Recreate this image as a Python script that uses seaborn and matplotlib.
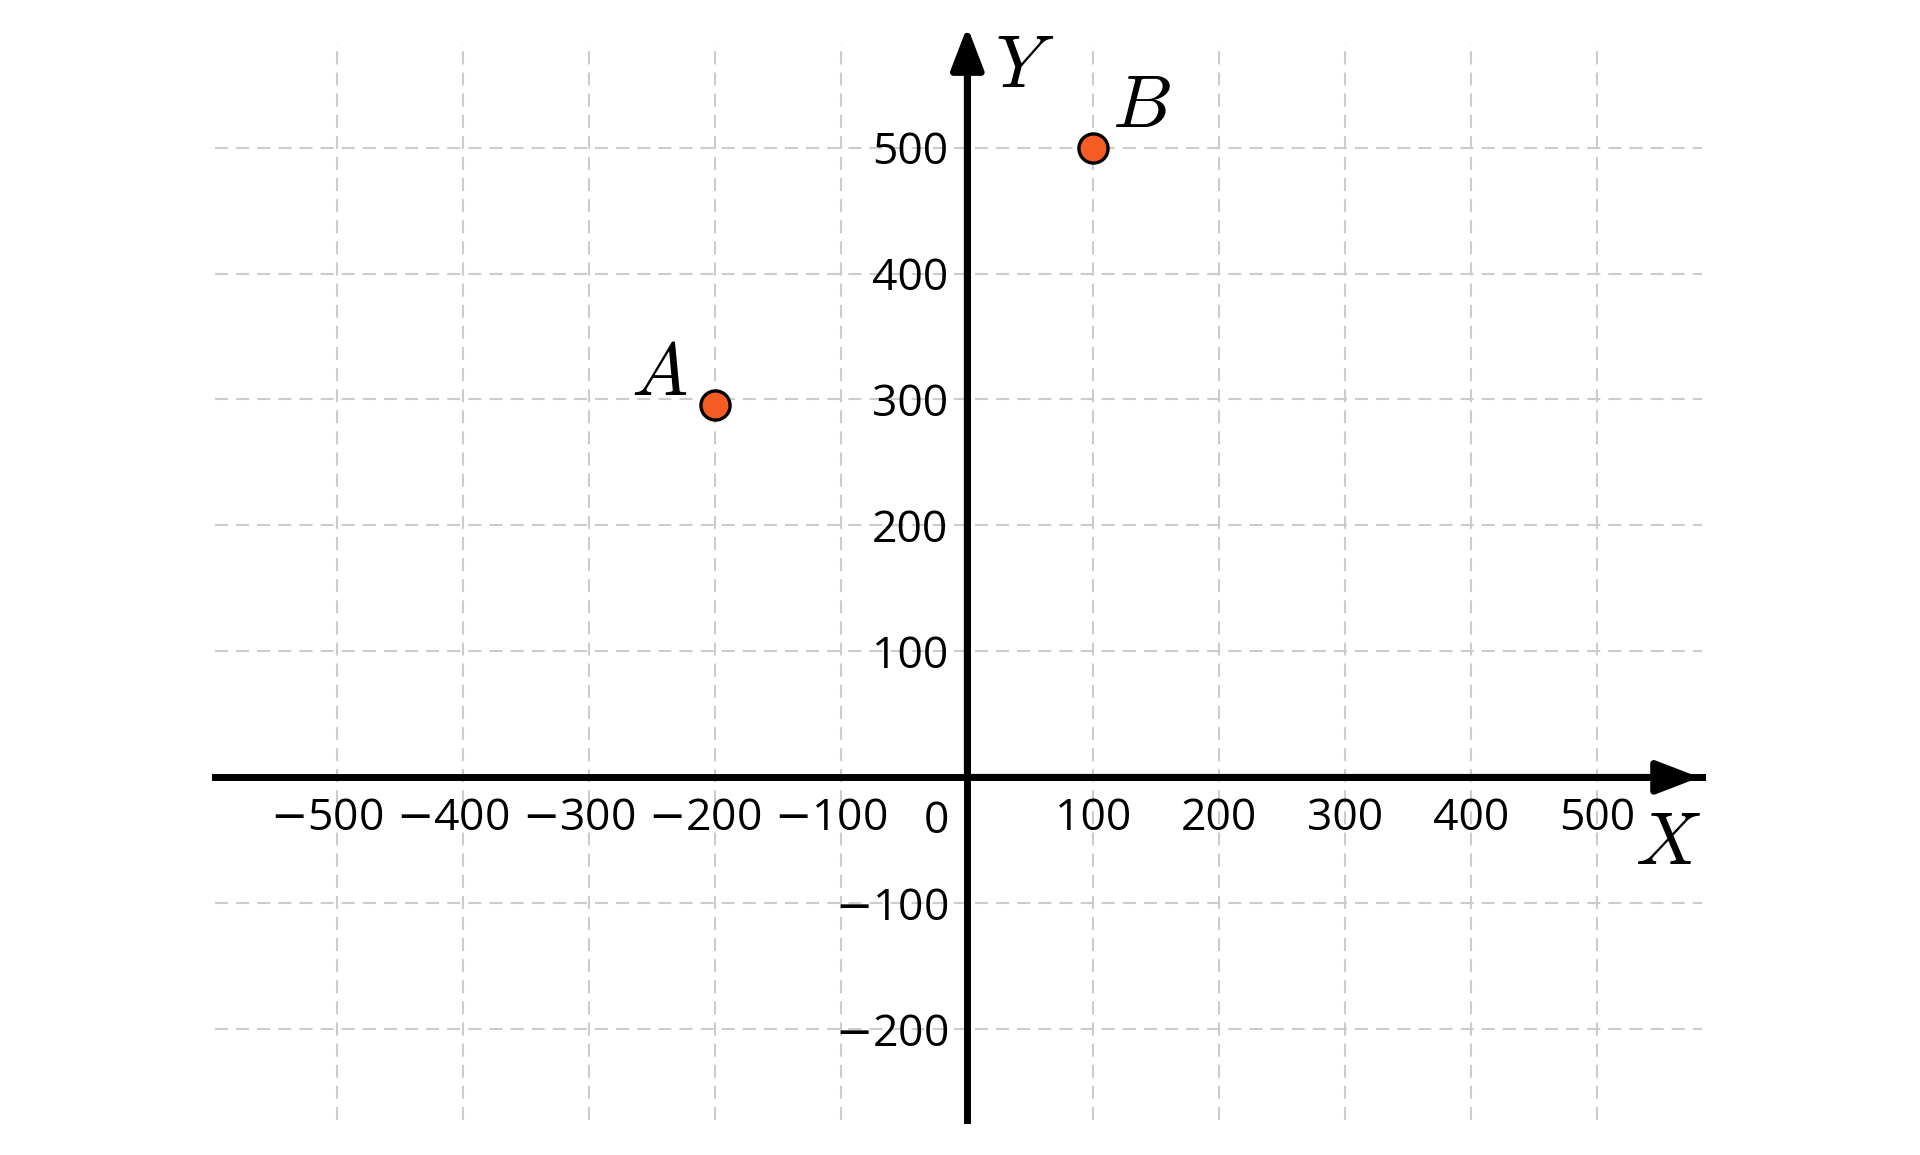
import matplotlib
matplotlib.use("Agg")
import matplotlib.pyplot as plt
import matplotlib.transforms as mtransforms
import seaborn as sns
import pandas as pd

# points
point_names = ["A", "B"]
point_x = [-200, 100]
point_y = [296, 500]

x_ticks = [-500, -400, -300, -200, -100, 100, 200, 300, 400, 500]
y_ticks = [-200, -100, 100, 200, 300, 400, 500]

x_limits = (-597, 583)
y_limits = (-272, 583)


def tick_text(v):
    # wide minus sign, digits in the regular font
    return f"$-${abs(v)}" if v < 0 else f"{v}"


sns.set_theme(style="white")
plt.rcParams["font.family"] = ["Open Sans", "DejaVu Sans"]
plt.rcParams["mathtext.fontset"] = "cm"
plt.rcParams["lines.scale_dashes"] = False
plt.rcParams["text.color"] = "black"

fig = plt.figure(figsize=(9.6, 5.775), dpi=200)
ax = fig.add_axes([215 / 1920, 1 - 1120 / 1155, 1487 / 1920, 1077 / 1155])
ax.set_xlim(*x_limits)
ax.set_ylim(*y_limits)

# dashed grid
ax.set_xticks(x_ticks)
ax.set_yticks(y_ticks)
ax.grid(True, color="#cccccc", linewidth=0.75, dashes=(4.7, 2.9))

# axes through the origin
for side in ["top", "right"]:
    ax.spines[side].set_visible(False)
for side in ["left", "bottom"]:
    ax.spines[side].set_position(("data", 0))
    ax.spines[side].set_linewidth(2.5)
    ax.spines[side].set_color("black")
ax.tick_params(axis="both", direction="inout", length=6, width=1.8,
               color="black", labelsize=16, labelcolor="black", pad=4)
ax.set_xticklabels([tick_text(v) for v in x_ticks], math_fontfamily="dejavusans")
ax.set_yticklabels([tick_text(v) for v in y_ticks], math_fontfamily="dejavusans")

# negative x labels sit a little left of their ticks
shift = mtransforms.ScaledTranslation(-11 / 200, 0, fig.dpi_scale_trans)
for v, label in zip(x_ticks, ax.get_xticklabels()):
    if v < 0:
        label.set_transform(label.get_transform() + shift)

arrow_style = "-|>,head_length=1.3,head_width=0.5"
ax.annotate("", xy=(x_limits[1] - 2, 0), xytext=(0, 0), annotation_clip=False,
            arrowprops=dict(arrowstyle=arrow_style, mutation_scale=10, lw=2.5,
                            color="black", shrinkA=0, shrinkB=0))
ax.annotate("", xy=(0, 596), xytext=(0, 0), annotation_clip=False,
            arrowprops=dict(arrowstyle=arrow_style, mutation_scale=10, lw=2.5,
                            color="black", shrinkA=0, shrinkB=0))

ax.annotate("0", xy=(0, 0), xytext=(-11.2, -7.9), textcoords="offset points",
            ha="center", va="top", fontsize=16)
ax.text(582, -68.5, "$X$", ha="right", va="baseline", fontsize=27)
ax.text(22, 548, "$Y$", ha="left", va="baseline", fontsize=27)

df = pd.DataFrame({"name": point_names, "x": point_x, "y": point_y})
sns.scatterplot(data=df, x="x", y="y", ax=ax, s=110, color="#F55C24",
                edgecolor="black", linewidth=1.2, zorder=5, clip_on=False)
ax.set_xlabel("")
ax.set_ylabel("")

label_offsets = {"A": ((-10, 3.6), "right"), "B": ((6.8, 7.3), "left")}
for name, x, y in zip(point_names, point_x, point_y):
    offset, ha = label_offsets[name]
    ax.annotate(f"${name}$", xy=(x, y), xytext=offset, textcoords="offset points",
                ha=ha, va="baseline", fontsize=27)

fig.savefig("out.png", dpi=200)
